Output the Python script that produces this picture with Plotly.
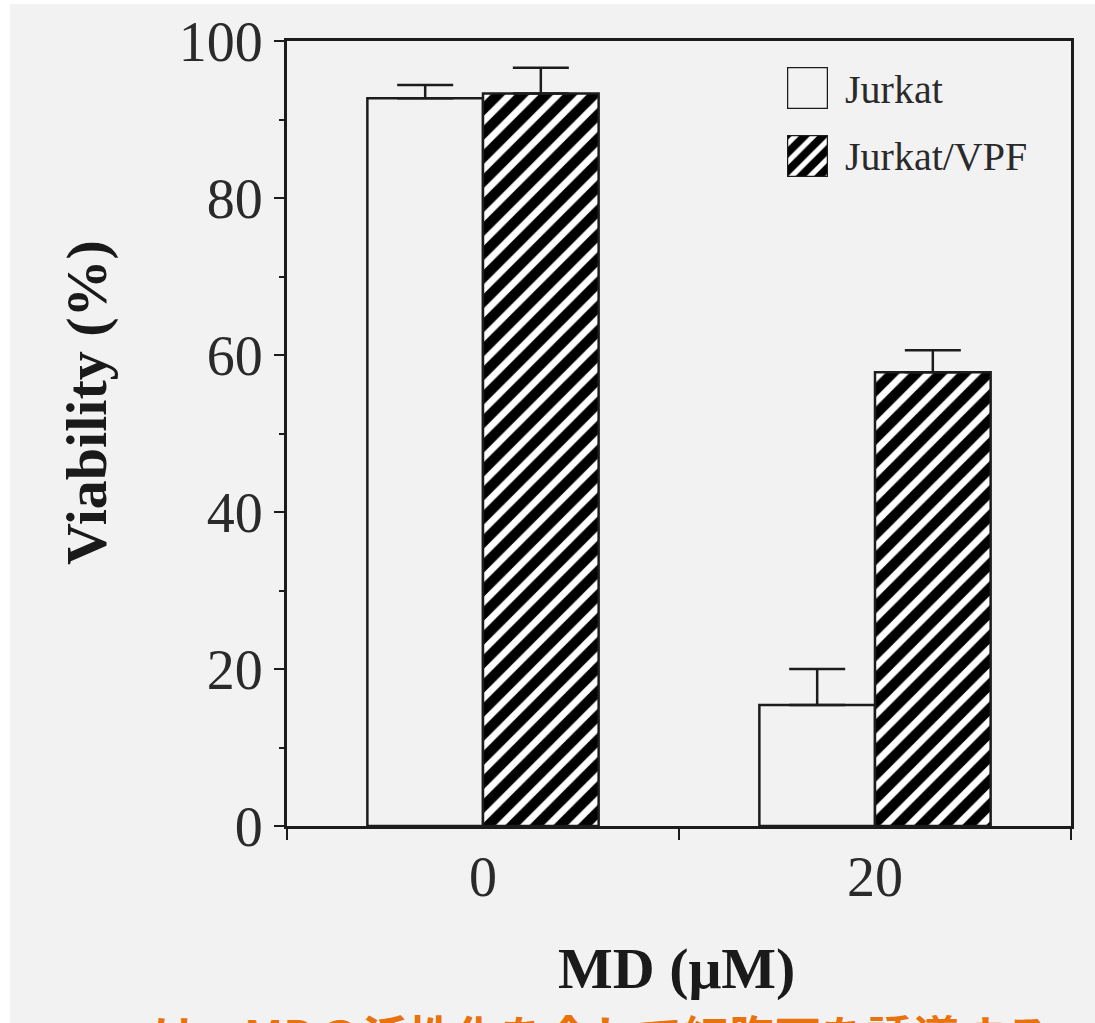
import plotly.graph_objects as go

# ---- data ----
categories = ["0", "20"]
jurkat = [92.7, 15.4]
jurkat_err = [1.7, 4.6]
vpf = [93.3, 57.8]
vpf_err = [3.3, 2.8]
series_names = ["Jurkat", "Jurkat/VPF"]
y_ticks = [0, 20, 40, 60, 80, 100]

BG = "#f2f2f2"
INK = "#1c1c1c"
SERIF = "Liberation Serif, Times New Roman, serif"

# plot area in pixels (for paper-coordinate conversion of decorations)
L, R, T, B = 287, 1071, 41, 826
W, H = R - L, B - T


def px(x):
    return (x - L) / W


def py(y):
    return (B - y) / H


HATCH = dict(shape="/", fgcolor="black", bgcolor="white", fgopacity=1,
             fillmode="replace", size=17, solidity=0.6)

fig = go.Figure()

fig.add_trace(go.Bar(
    x=categories, y=jurkat, name=series_names[0],
    marker=dict(color=BG, line=dict(color=INK, width=2.5)),
    error_y=dict(type="data", array=jurkat_err, arrayminus=[0] * len(jurkat_err),
                 symmetric=False, color=INK, thickness=2.5, width=28),
    showlegend=False,
))
fig.add_trace(go.Bar(
    x=categories, y=vpf, name=series_names[1],
    marker=dict(color="white", line=dict(color=INK, width=2.5), pattern=HATCH),
    error_y=dict(type="data", array=vpf_err, arrayminus=[0] * len(vpf_err),
                 symmetric=False, color=INK, thickness=2.5, width=28),
    showlegend=False,
))

# ---- custom legend swatches as tiny subplots (big boxes like the original) ----
fig.add_trace(go.Bar(x=[0], y=[1], width=[1], xaxis="x2", yaxis="y2", cliponaxis=False,
                     marker=dict(color=BG, line=dict(color=INK, width=2.5)),
                     showlegend=False, hoverinfo="skip"))
fig.add_trace(go.Bar(x=[0], y=[1], width=[1], xaxis="x3", yaxis="y3", cliponaxis=False,
                     marker=dict(color="white", line=dict(color=INK, width=2.5),
                                 pattern=dict(HATCH, size=13)),
                     showlegend=False, hoverinfo="skip"))

hidden = dict(visible=False, fixedrange=True)
fig.update_layout(
    xaxis2=dict(domain=[px(787), px(828)], range=[-0.5, 0.5], anchor="y2", **hidden),
    yaxis2=dict(domain=[py(109), py(67)], range=[0, 1], anchor="x2", **hidden),
    xaxis3=dict(domain=[px(787), px(828)], range=[-0.5, 0.5], anchor="y3", **hidden),
    yaxis3=dict(domain=[py(177), py(135)], range=[0, 1], anchor="x3", **hidden),
)

annotations = [
    dict(x=px(843), y=py(90), xref="paper", yref="paper", text=series_names[0],
         showarrow=False, xanchor="left", yanchor="middle",
         font=dict(family=SERIF, size=40, color="#2a2a2a")),
    dict(x=px(843), y=py(157), xref="paper", yref="paper", text=series_names[1],
         showarrow=False, xanchor="left", yanchor="middle",
         font=dict(family=SERIF, size=40, color="#2a2a2a")),
    dict(x=px(86), y=py(403), xref="paper", yref="paper", text="<b>Viability (%)</b>",
         textangle=-90, showarrow=False, xanchor="center", yanchor="middle",
         font=dict(family=SERIF, size=58, color="#1a1a1a")),
    dict(x=px(676), y=py(968), xref="paper", yref="paper", text="<b>MD (μM)</b>",
         showarrow=False, xanchor="center", yanchor="middle",
         font=dict(family=SERIF, size=58, color="#1a1a1a")),
    dict(x=px(150), y=py(999), xref="paper", yref="paper",
         text="<b>は、MDの活性化を介して細胞死を誘導する</b>",
         showarrow=False, xanchor="left", yanchor="top",
         font=dict(family="Noto Sans CJK JP", size=46, color="#e8720c")),
]

fig.update_layout(
    width=1095, height=1023,
    margin=dict(l=L, r=1095 - R, t=T, b=1023 - B),
    paper_bgcolor="white",
    plot_bgcolor="rgba(0,0,0,0)",
    barmode="group", bargap=0.41, bargroupgap=0,
    showlegend=False,
    annotations=annotations,
    shapes=[dict(type="rect", xref="paper", yref="paper", layer="below",
                 x0=px(10), x1=px(1095), y0=py(1023), y1=py(4),
                 fillcolor=BG, line=dict(width=0))],
    xaxis=dict(
        type="category", categoryorder="array", categoryarray=categories,
        range=[-0.5, 1.5], tickson="boundaries",
        ticks="outside", ticklen=11, tickwidth=2, tickcolor=INK,
        showline=True, linewidth=3, linecolor=INK, mirror=True,
        showgrid=False, zeroline=False,
        tickfont=dict(family=SERIF, size=56, color="#2a2a2a"),
    ),
    yaxis=dict(
        range=[0, 100], tickvals=y_ticks, ticktext=[str(v) for v in y_ticks],
        ticks="outside", ticklen=10, tickwidth=2, tickcolor=INK,
        minor=dict(dtick=10, ticks="outside", ticklen=5, tickwidth=2, tickcolor=INK),
        showline=True, linewidth=3, linecolor=INK, mirror=True,
        showgrid=False, zeroline=False,
        tickfont=dict(family=SERIF, size=56, color="#2a2a2a"),
    ),
)

fig.write_html("out.html")
